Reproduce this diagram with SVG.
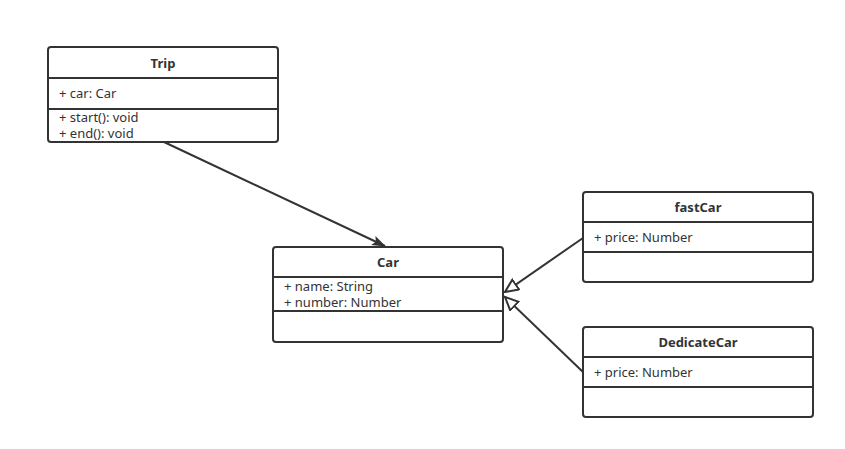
<svg xmlns="http://www.w3.org/2000/svg" width="845" height="449" viewBox="0 0 845 449">
<style>
.box{fill:#fff;stroke:#333;stroke-width:2}
.div{stroke:#333;stroke-width:2}
.t{font-family:"Noto Sans","Open Sans",sans-serif;font-size:13px;fill:#333}
.h{font-weight:bold;text-anchor:middle}
.c{stroke:#333;stroke-width:2;fill:none}
</style>
<defs>
<marker id="filled" markerWidth="14" markerHeight="10" refX="13" refY="5" orient="auto" markerUnits="userSpaceOnUse">
<path d="M0,0 L14,5 L0,10 L3,5 Z" fill="#333"/>
</marker>
<marker id="hollow" markerWidth="16" markerHeight="14" refX="14" refY="7" orient="auto" markerUnits="userSpaceOnUse">
<path d="M1,1 L14,7 L1,13 Z" fill="#fff" stroke="#333" stroke-width="2"/>
</marker>
</defs>
<rect width="845" height="449" fill="#fff"/>
<g id="connectors">
<line class="c" x1="164" y1="142" x2="385" y2="246" marker-end="url(#filled)"/>
<line class="c" x1="583" y1="238" x2="505" y2="292" marker-end="url(#hollow)"/>
<line class="c" x1="583" y1="372" x2="505" y2="297" marker-end="url(#hollow)"/>
</g>
<g id="Trip">
<rect class="box" x="48" y="47" width="230" height="95" rx="3"/>
<line class="div" x1="48" y1="78" x2="278" y2="78"/>
<line class="div" x1="48" y1="109" x2="278" y2="109"/>
<text class="t h" x="163" y="68">Trip</text>
<text class="t" x="59" y="98">+ car: Car</text>
<text class="t" x="59" y="122">+ start(): void</text>
<text class="t" x="59" y="138">+ end(): void</text>
</g>
<g id="Car">
<rect class="box" x="273" y="247" width="230" height="95" rx="3"/>
<line class="div" x1="273" y1="277" x2="503" y2="277"/>
<line class="div" x1="273" y1="311" x2="503" y2="311"/>
<text class="t h" x="388" y="267">Car</text>
<text class="t" x="284" y="291">+ name: String</text>
<text class="t" x="284" y="307">+ number: Number</text>
</g>
<g id="fastCar">
<rect class="box" x="583" y="192" width="230" height="90" rx="3"/>
<line class="div" x1="583" y1="222" x2="813" y2="222"/>
<line class="div" x1="583" y1="252" x2="813" y2="252"/>
<text class="t h" x="698" y="212">fastCar</text>
<text class="t" x="594" y="242">+ price: Number</text>
</g>
<g id="DedicateCar">
<rect class="box" x="583" y="327" width="230" height="90" rx="3"/>
<line class="div" x1="583" y1="357" x2="813" y2="357"/>
<line class="div" x1="583" y1="387" x2="813" y2="387"/>
<text class="t h" x="698" y="347">DedicateCar</text>
<text class="t" x="594" y="377">+ price: Number</text>
</g>
</svg>
